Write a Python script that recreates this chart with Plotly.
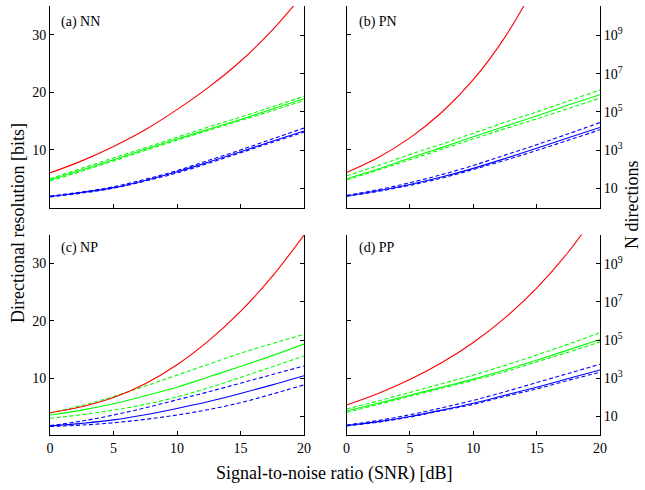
import plotly.graph_objects as go
import math

snr = [0, 2.5, 5, 7.5, 10, 12.5, 15, 17.5, 20]

# (a) NN
nn_red = [6.0, 8.1, 10.6, 13.5, 17.0, 20.9, 25.4, 30.8, 37.2]
nn_green = [4.8, 6.5, 8.3, 10.1, 11.9, 13.6, 15.3, 17.1, 18.9]
nn_green_hi = [5.0, 6.8, 8.6, 10.4, 12.2, 14.0, 15.7, 17.5, 19.3]
nn_green_lo = [4.6, 6.3, 8.1, 9.9, 11.7, 13.4, 15.1, 16.8, 18.6]
nn_blue = [1.9, 2.6, 3.45, 4.7, 6.2, 7.9, 9.7, 11.5, 13.3]
nn_blue_hi = [2.0, 2.7, 3.6, 4.9, 6.4, 8.2, 10.0, 11.9, 13.8]
nn_blue_lo = [1.85, 2.5, 3.35, 4.6, 6.0, 7.7, 9.5, 11.3, 13.1]

# (b) PN
pn_red = [6.1, 8.7, 12.1, 16.5, 22.2, 29.6, 39.2, 51.7, 67.7]
pn_green = [5.0, 6.7, 8.6, 10.4, 12.3, 14.1, 15.9, 17.8, 19.6]
pn_green_hi = [5.5, 7.3, 9.2, 11.0, 12.9, 14.8, 16.6, 18.5, 20.4]
pn_green_lo = [4.8, 6.5, 8.3, 10.1, 11.9, 13.7, 15.4, 17.2, 19.0]
pn_blue = [2.0, 2.9, 4.0, 5.3, 6.8, 8.5, 10.3, 12.1, 13.9]
pn_blue_hi = [2.1, 3.1, 4.3, 5.7, 7.3, 9.1, 10.9, 12.8, 14.75]
pn_blue_lo = [1.95, 2.8, 3.85, 5.1, 6.6, 8.2, 9.9, 11.7, 13.5]

# (c) NP
np_red = [3.95, 5.0, 6.6, 9.0, 12.3, 16.5, 21.6, 27.7, 34.9]
np_green = [3.55, 4.4, 5.5, 6.9, 8.4, 10.2, 12.0, 13.9, 15.9]
np_green_hi = [3.9, 5.2, 6.75, 8.6, 10.5, 12.4, 14.3, 16.0, 17.6]
np_green_lo = [3.0, 3.6, 4.4, 5.4, 6.7, 8.3, 10.1, 11.95, 13.85]
np_blue = [1.64, 2.1, 2.7, 3.6, 4.7, 5.9, 7.3, 8.8, 10.4]
np_blue_hi = [1.7, 2.5, 3.55, 4.8, 6.2, 7.6, 9.1, 10.6, 12.1]
np_blue_lo = [1.55, 1.8, 2.2, 2.8, 3.55, 4.5, 5.7, 7.2, 8.8]

# (d) PP
pp_red = [5.3, 7.3, 9.72, 12.65, 16.19, 20.48, 25.67, 31.95, 39.55]
pp_green = [4.25, 5.6, 7.0, 8.4, 9.8, 11.4, 13.1, 14.9, 16.7]
pp_green_hi = [4.6, 6.0, 7.5, 9.0, 10.5, 12.2, 14.0, 15.9, 17.9]
pp_green_lo = [4.0, 5.4, 6.8, 8.2, 9.6, 11.1, 12.8, 14.5, 16.3]
pp_blue = [1.7, 2.4, 3.3, 4.4, 5.6, 7.0, 8.4, 9.9, 11.4]
pp_blue_hi = [1.8, 2.6, 3.6, 4.8, 6.1, 7.6, 9.2, 10.8, 12.4]
pp_blue_lo = [1.65, 2.3, 3.2, 4.3, 5.4, 6.8, 8.1, 9.6, 11.0]

panel_labels = ["(a) NN", "(b) PN", "(c) NP", "(d) PP"]
x_ticks = [0, 5, 10, 15, 20]
bit_ticks = [10, 20, 30]
n_ticks = [10, 1e3, 1e5, 1e7, 1e9]
n_ticktext = ["10", "10<sup>3</sup>", "10<sup>5</sup>", "10<sup>7</sup>", "10<sup>9</sup>"]

panels = [
    (nn_red, nn_green, nn_green_hi, nn_green_lo, nn_blue, nn_blue_hi, nn_blue_lo),
    (pn_red, pn_green, pn_green_hi, pn_green_lo, pn_blue, pn_blue_hi, pn_blue_lo),
    (np_red, np_green, np_green_hi, np_green_lo, np_blue, np_blue_hi, np_blue_lo),
    (pp_red, pp_green, pp_green_hi, pp_green_lo, pp_blue, pp_blue_hi, pp_blue_lo),
]

W, H = 645, 490
FONT = "Liberation Serif"
col_dom = [[50 / W, 304 / W], [346.5 / W, 600 / W]]
row_dom = [[1 - 207.5 / H, 1 - 6 / H], [1 - 435.4 / H, 1 - 234.5 / H]]

RED, GREEN, BLUE = "#ff0000", "#00ff00", "#0000ff"
DASH = "4px,2.5px"

fig = go.Figure()
layout = dict(
    width=W, height=H, margin=dict(l=0, r=0, t=0, b=0, autoexpand=False),
    paper_bgcolor="white", plot_bgcolor="white", showlegend=False,
    font=dict(family=FONT, size=14, color="black"),
)
annotations = []
tf = dict(size=14, family=FONT, color="black")

for i, data in enumerate(panels):
    r, c = divmod(i, 2)
    n = i + 1
    xa = "x" if n == 1 else f"x{n}"
    ya = "y" if n == 1 else f"y{n}"
    yr_n = 4 + n
    yr = f"y{yr_n}"
    red, g, gh, gl, b, bh, bl = data
    series = [
        (gh, GREEN, DASH), (gl, GREEN, DASH), (g, GREEN, "solid"),
        (bh, BLUE, DASH), (bl, BLUE, DASH), (b, BLUE, "solid"),
        (red, RED, "solid"),
    ]
    for vals, col, dash in series:
        fig.add_trace(go.Scatter(
            x=snr, y=vals, mode="lines", xaxis=xa, yaxis=ya,
            line=dict(color=col, width=1.1, dash=dash, shape="spline", smoothing=1.0),
            hoverinfo="skip"))
    # invisible trace on the right-hand log axis
    fig.add_trace(go.Scatter(x=[0, 20], y=[2, 2 ** 34], mode="lines", xaxis=xa, yaxis=yr,
                             line=dict(width=0, color="rgba(0,0,0,0)"), hoverinfo="skip"))

    xkey = "xaxis" if n == 1 else f"xaxis{n}"
    ykey = "yaxis" if n == 1 else f"yaxis{n}"
    layout[xkey] = dict(
        domain=col_dom[c], anchor=ya, range=[0, 20], tickvals=x_ticks, automargin=False,
        showticklabels=(r == 1), ticks="inside", ticklen=4, tickcolor="black",
        showline=True, linecolor="black", linewidth=1, mirror=False,
        showgrid=False, zeroline=False, tickfont=tf,
    )
    layout[ykey] = dict(
        domain=row_dom[r], anchor=xa, range=[0, 35], tickvals=bit_ticks, automargin=False,
        showticklabels=(c == 0), ticks="inside", ticklen=4, tickcolor="black",
        showline=True, linecolor="black", linewidth=1, mirror=False,
        showgrid=False, zeroline=False, tickfont=tf,
    )
    layout[f"yaxis{yr_n}"] = dict(
        overlaying=ya, side="right", anchor=xa, type="log", automargin=False,
        range=[0, 35 * math.log10(2)], tickvals=n_ticks, ticktext=n_ticktext,
        showticklabels=(c == 1), ticks="inside", ticklen=4, tickcolor="black",
        showline=True, linecolor="black", linewidth=1,
        showgrid=False, zeroline=False, tickfont=tf,
    )
    annotations.append(dict(
        text=panel_labels[i], xref="paper", yref="paper",
        x=(59 if c == 0 else 357) / W, y=1 - (22 if r == 0 else 248) / H,
        xanchor="left", yanchor="middle", showarrow=False,
        font=dict(size=14, family=FONT)))

annotations += [
    dict(text="Directional resolution [bits]", xref="paper", yref="paper",
         x=18 / W, y=1 - 223 / H, textangle=-90, showarrow=False,
         xanchor="center", yanchor="middle", font=dict(size=18, family=FONT)),
    dict(text="N directions", xref="paper", yref="paper",
         x=632 / W, y=1 - 205 / H, textangle=-90, showarrow=False,
         xanchor="center", yanchor="middle", font=dict(size=18, family=FONT)),
    dict(text="Signal-to-noise ratio (SNR) [dB]", xref="paper", yref="paper",
         x=334 / W, y=1 - 473 / H, showarrow=False,
         xanchor="center", yanchor="middle", font=dict(size=18, family=FONT)),
]
layout["annotations"] = annotations
fig.update_layout(**layout)
fig.write_html("out.html", config={"displayModeBar": False},
               post_script="document.body.style.margin='0';document.body.style.padding='0';"
                           "document.documentElement.style.overflow='hidden';")
